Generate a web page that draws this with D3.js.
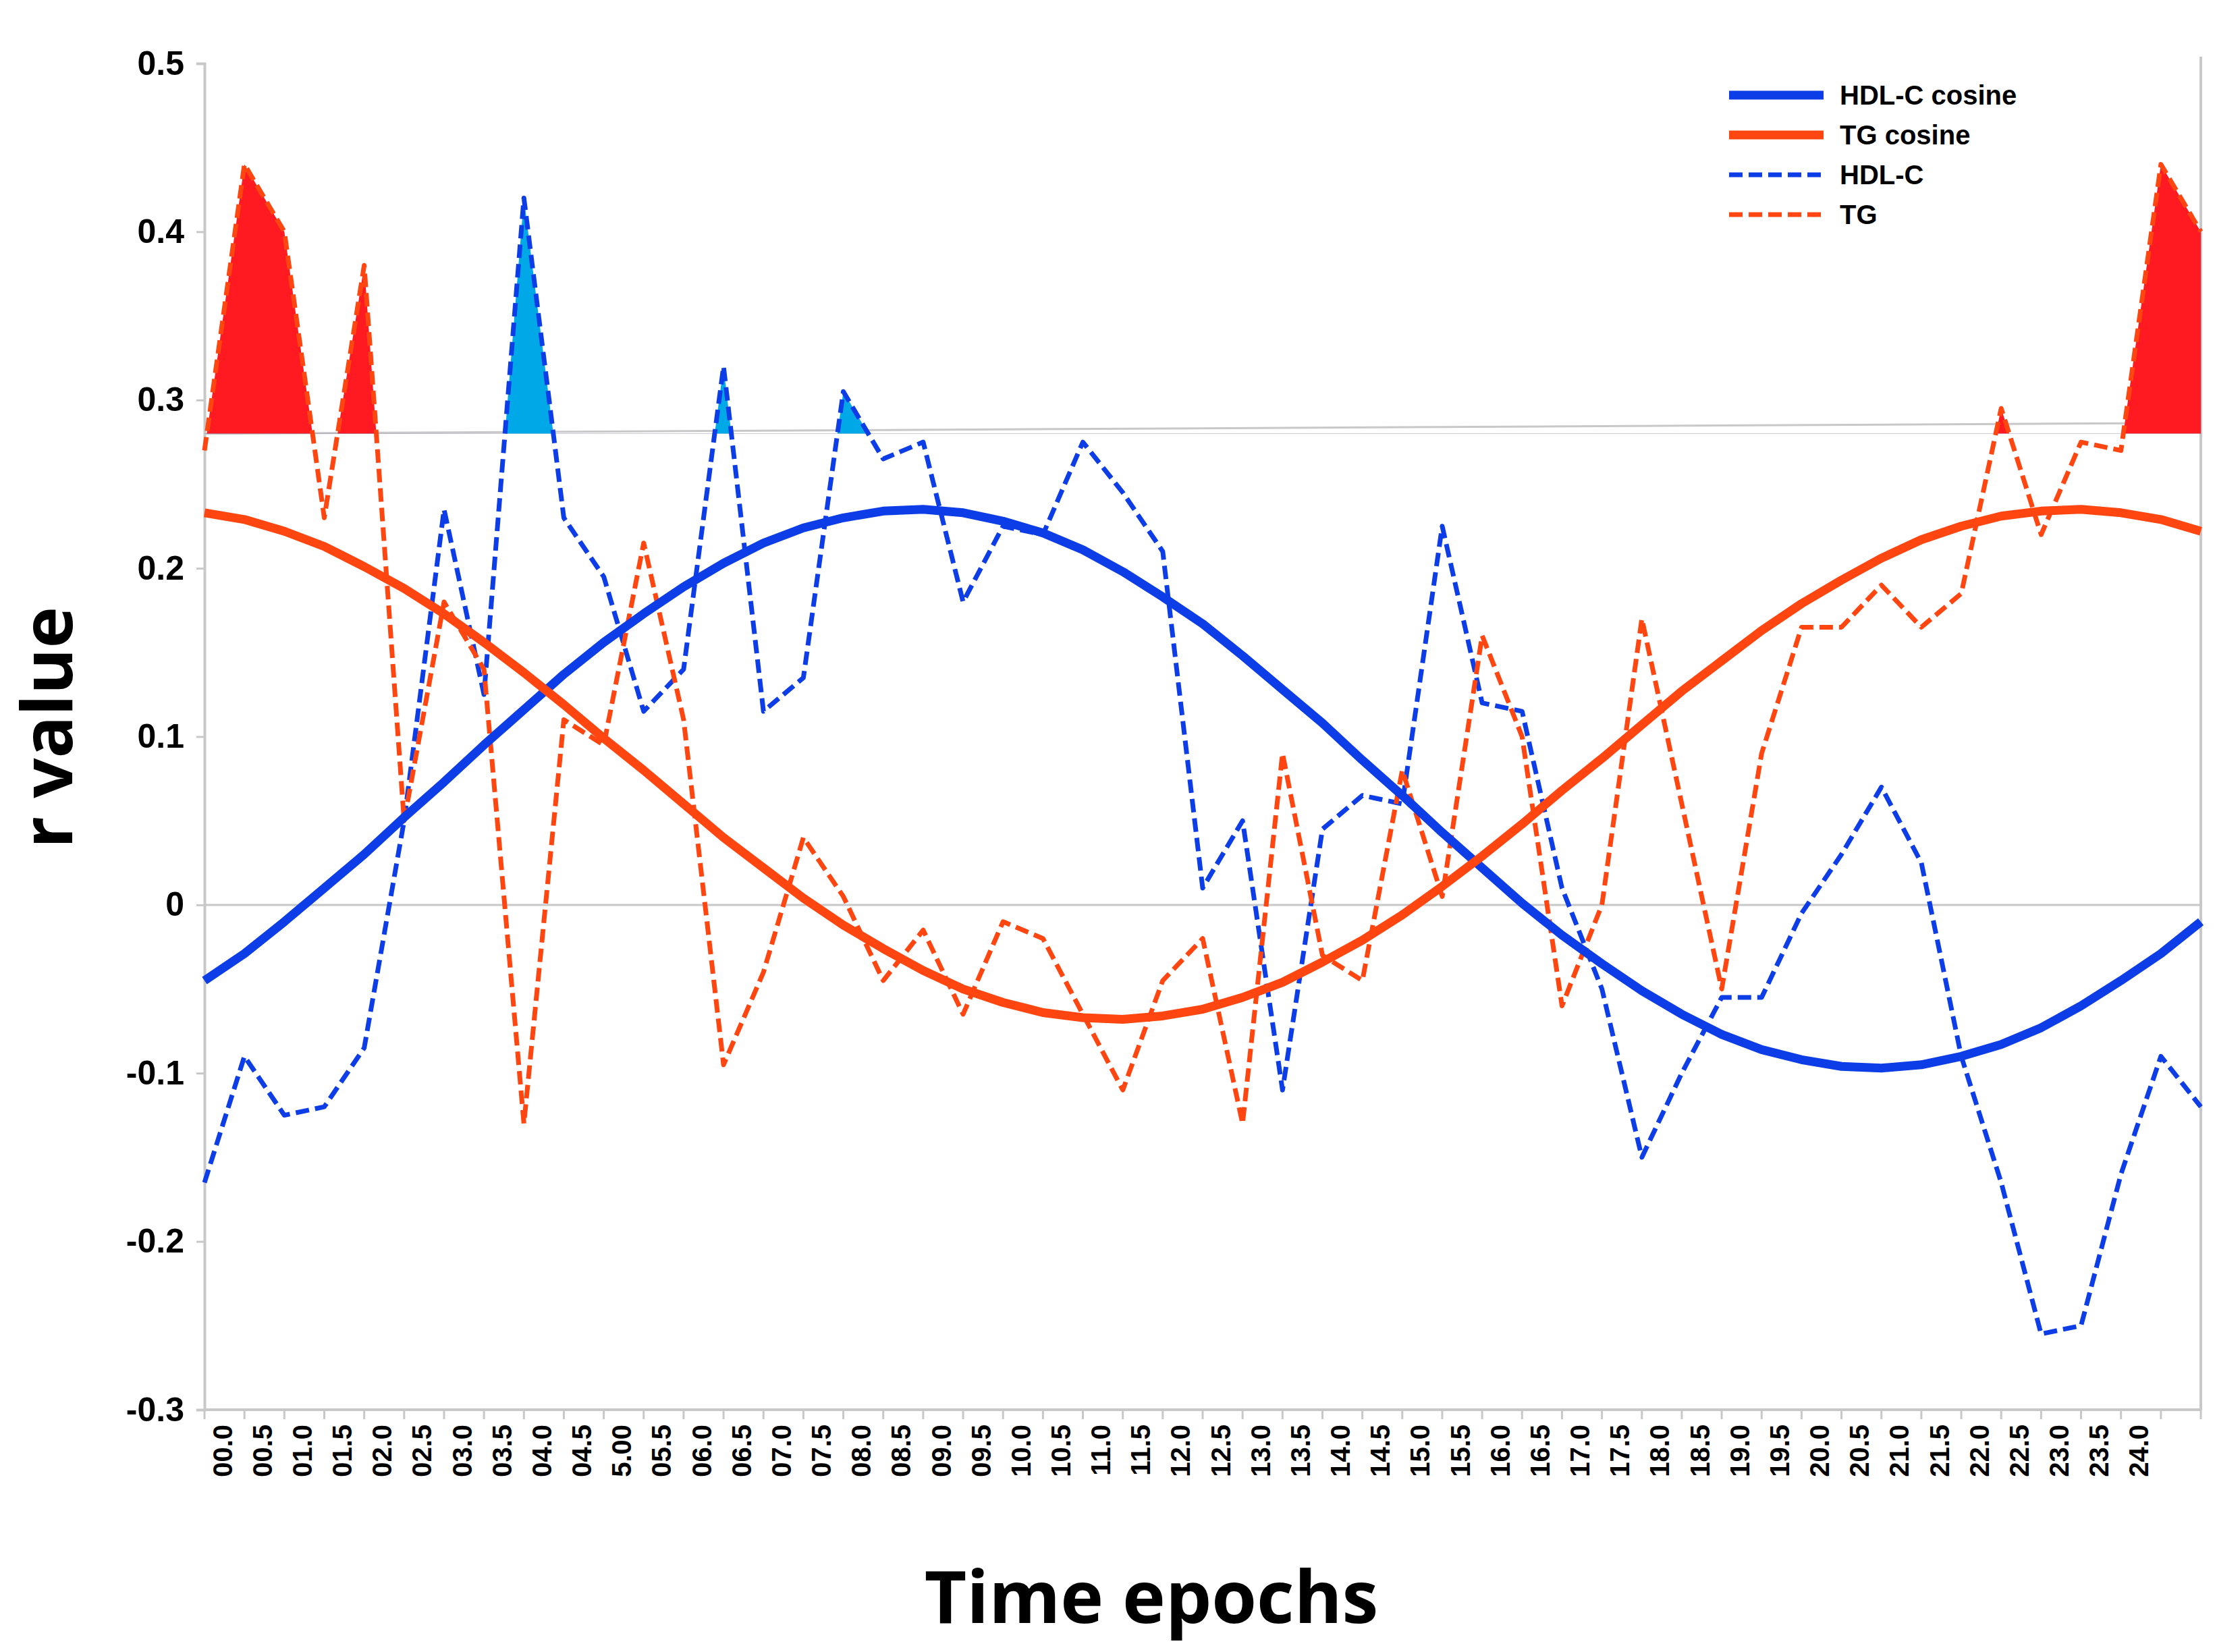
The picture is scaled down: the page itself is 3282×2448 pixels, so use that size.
<!DOCTYPE html>
<html>
<head>
<meta charset="utf-8">
<script src="https://cdn.jsdelivr.net/npm/d3@7"></script>
<style>
  html, body { margin: 0; padding: 0; background: #fff; }
  svg { display: block; }
</style>
</head>
<body>
<svg id="chart" width="3282" height="2448"></svg>
<script>
// ─── Data ───

// 51 time points, 00.0 .. 25.0 in half-hour steps; only 49 get a label
var tickLabels = ["00.0","00.5","01.0","01.5","02.0","02.5","03.0","03.5","04.0","04.5",
  "5.00","05.5","06.0","06.5","07.0","07.5","08.0","08.5","09.0","09.5",
  "10.0","10.5","11.0","11.5","12.0","12.5","13.0","13.5","14.0","14.5",
  "15.0","15.5","16.0","16.5","17.0","17.5","18.0","18.5","19.0","19.5",
  "20.0","20.5","21.0","21.5","22.0","22.5","23.0","23.5","24.0"];

var hdl = [-0.165,-0.09,-0.125,-0.12,-0.085,0.05,0.235,0.125,0.42,0.23,
  0.195,0.115,0.14,0.32,0.115,0.135,0.305,0.265,0.275,0.18,
  0.225,0.22,0.275,0.245,0.21,0.01,0.05,-0.11,0.045,0.065,
  0.06,0.225,0.12,0.115,0.01,-0.05,-0.15,-0.10,-0.055,-0.055,
  -0.005,0.03,0.07,0.025,-0.09,-0.165,-0.255,-0.25,-0.16,-0.09,-0.12];

var tg = [0.27,0.44,0.40,0.23,0.38,0.05,0.18,0.14,-0.13,0.11,
  0.095,0.215,0.11,-0.095,-0.04,0.04,0.005,-0.045,-0.015,-0.065,
  -0.01,-0.02,-0.065,-0.11,-0.045,-0.02,-0.13,0.09,-0.03,-0.045,
  0.08,0.005,0.16,0.10,-0.06,0.0,0.17,0.06,-0.05,0.09,
  0.165,0.165,0.19,0.165,0.185,0.295,0.22,0.275,0.27,0.44,0.40];

var hdlCos = [-0.045,-0.029,-0.010,0.010,0.030,0.052,0.073,0.095,0.116,0.137,
  0.156,0.173,0.189,0.203,0.215,0.224,0.230,0.234,0.235,0.233,
  0.228,0.221,0.211,0.198,0.183,0.167,0.148,0.128,0.108,0.086,
  0.065,0.043,0.022,0.001,-0.018,-0.035,-0.051,-0.065,-0.077,-0.086,
  -0.092,-0.096,-0.097,-0.095,-0.090,-0.083,-0.073,-0.060,-0.045,-0.029,-0.010];

var tgCos = [0.233,0.229,0.222,0.213,0.201,0.188,0.173,0.156,0.138,0.119,
  0.099,0.080,0.060,0.040,0.022,0.004,-0.012,-0.026,-0.039,-0.050,
  -0.058,-0.064,-0.067,-0.068,-0.066,-0.062,-0.055,-0.046,-0.034,-0.021,
  -0.006,0.011,0.029,0.048,0.068,0.087,0.107,0.127,0.145,0.163,
  0.179,0.193,0.206,0.217,0.225,0.231,0.234,0.235,0.233,0.229,0.222];

var threshold = 0.28;
var yTicks = [0.5, 0.4, 0.3, 0.2, 0.1, 0, -0.1, -0.2, -0.3];

var BLUE = "#0d3de6", ORANGE = "#ff4510", RED = "#ff1a22", CYAN = "#00a8e8";

// ─── Layout ───

var svg = d3.select("#chart");
var plotL = 303, plotR = 3261, plotT = 94, plotB = 2089;

var idx = d3.range(hdl.length);
var x = d3.scalePoint().domain(idx).range([plotL, plotR]);
var y = d3.scaleLinear().domain([-0.3, 0.5]).range([plotB, plotT]);
var step = x.step();

// ─── Grid / frame ───

svg.append("line").attr("x1", plotL).attr("x2", plotR).attr("y1", y(0)).attr("y2", y(0))
  .attr("stroke", "#c8c8c8").attr("stroke-width", 3);
svg.append("line").attr("x1", plotL).attr("x2", plotR).attr("y1", y(threshold)).attr("y2", y(threshold) - 16)
  .attr("stroke", "#c8c8c8").attr("stroke-width", 3);
svg.append("line").attr("x1", plotR).attr("x2", plotR).attr("y1", plotT - 10).attr("y2", plotB)
  .attr("stroke", "#c8c8c8").attr("stroke-width", 4);

var yAxis = d3.axisLeft(y).tickValues(yTicks).tickSize(12)
  .tickFormat(function(d) { return d === 0 ? "0" : String(+d.toFixed(1)); });
var gy = svg.append("g").attr("transform", "translate(" + plotL + ",0)").call(yAxis);
gy.select(".domain").attr("stroke", "#c8c8c8").attr("stroke-width", 4);
gy.selectAll(".tick line").attr("stroke", "#c8c8c8").attr("stroke-width", 3);
gy.selectAll(".tick text").attr("x", -30)
  .style("font", "bold 50px 'Liberation Sans', Arial, sans-serif").attr("fill", "#000");

// x axis baseline + tick marks at points
svg.append("line").attr("x1", plotL).attr("x2", plotR).attr("y1", plotB).attr("y2", plotB)
  .attr("stroke", "#c8c8c8").attr("stroke-width", 4);
svg.selectAll(".xtick").data(idx).enter().append("line")
  .attr("x1", function(d) { return x(d); }).attr("x2", function(d) { return x(d); })
  .attr("y1", plotB).attr("y2", plotB + 14)
  .attr("stroke", "#c8c8c8").attr("stroke-width", 3);

svg.selectAll(".xlab").data(tickLabels).enter().append("text")
  .attr("transform", function(d, i) {
    return "translate(" + (x(i) + step * 0.45) + "," + (plotB + 22) + ") rotate(-90)";
  })
  .attr("text-anchor", "end").attr("dominant-baseline", "central")
  .style("font", "bold 40px 'Liberation Sans', Arial, sans-serif")
  .text(function(d) { return d; });

// ─── Threshold fills ───

svg.append("clipPath").attr("id", "above")
  .append("rect").attr("x", plotL).attr("y", 0).attr("width", plotR - plotL).attr("height", y(threshold));

function fillArea(values, color) {
  var area = d3.area()
    .x(function(d, i) { return x(i); })
    .y0(y(threshold))
    .y1(function(d) { return y(d); });
  svg.append("path").datum(values).attr("d", area)
    .attr("fill", color).attr("clip-path", "url(#above)");
}
fillArea(tg, RED);
fillArea(hdl, CYAN);

// ─── Lines ───

function drawLine(values, color, width, dash) {
  var line = d3.line().x(function(d, i) { return x(i); }).y(function(d) { return y(d); });
  svg.append("path").datum(values).attr("d", line)
    .attr("fill", "none").attr("stroke", color).attr("stroke-width", width)
    .attr("stroke-dasharray", dash || null).attr("stroke-linejoin", "round");
}
drawLine(hdl, BLUE, 7, "20,9");
drawLine(tg, ORANGE, 7, "20,9");
drawLine(hdlCos, BLUE, 13);
drawLine(tgCos, ORANGE, 13);

// ─── Legend ───

var legendItems = [
  { label: "HDL-C cosine", color: BLUE, width: 13, dash: null },
  { label: "TG cosine", color: ORANGE, width: 13, dash: null },
  { label: "HDL-C", color: BLUE, width: 7, dash: "20,9" },
  { label: "TG", color: ORANGE, width: 7, dash: "20,9" }
];
var lg = svg.append("g").attr("transform", "translate(2562,141)");
legendItems.forEach(function(it, i) {
  var row = lg.append("g").attr("transform", "translate(0," + i * 59 + ")");
  row.append("line").attr("x1", 0).attr("x2", 140).attr("y1", 0).attr("y2", 0)
    .attr("stroke", it.color).attr("stroke-width", it.width).attr("stroke-dasharray", it.dash);
  row.append("text").attr("x", 164).attr("y", 0).attr("dominant-baseline", "central")
    .style("font", "bold 40px 'Liberation Sans', Arial, sans-serif").text(it.label);
});

// ─── Titles ───

svg.append("text").attr("transform", "translate(66,1078) rotate(-90)")
  .attr("text-anchor", "middle").attr("dominant-baseline", "central")
  .style("font", "bold 104px 'Open Sans', sans-serif").text("r  value");
svg.append("text").attr("x", 1706).attr("y", 2405).attr("text-anchor", "middle")
  .style("font", "bold 108px 'Open Sans', sans-serif").text("Time epochs");
</script>
</body>
</html>
